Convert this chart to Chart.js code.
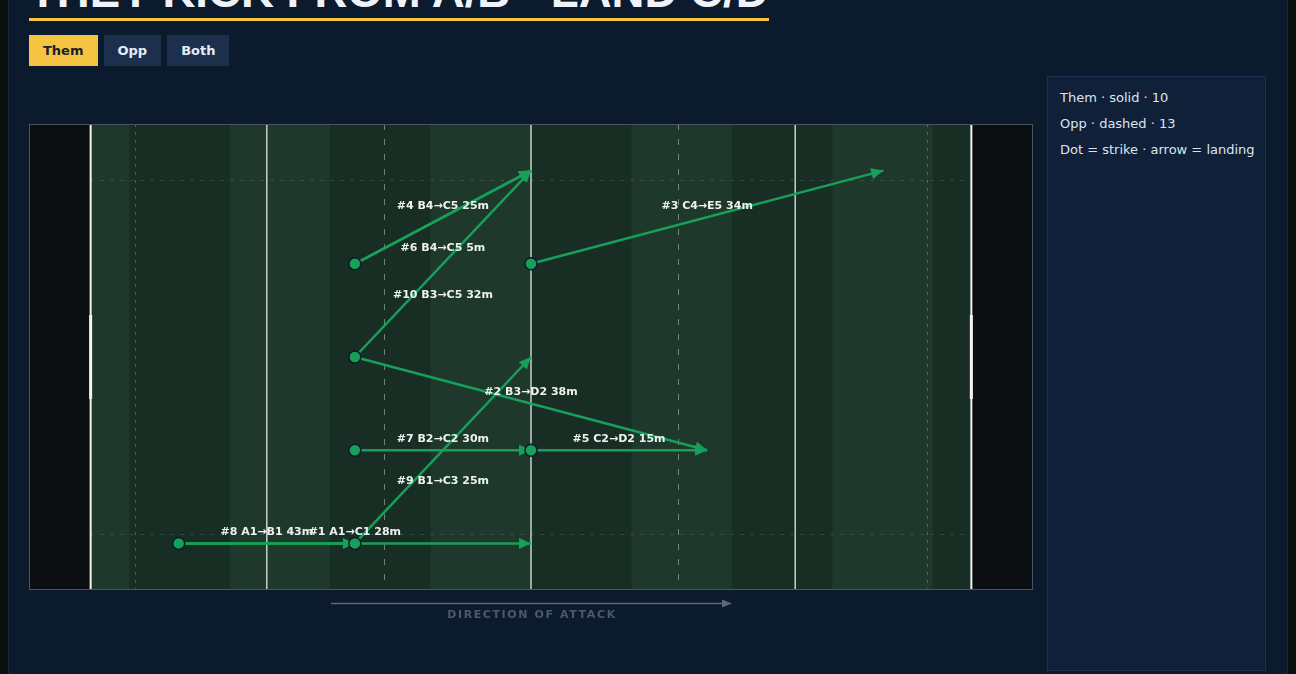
<!DOCTYPE html>
<html lang="en">
<head>
  <meta charset="UTF-8">
  <title>They kick from A/B - land C/D</title>
  <script src="https://cdn.jsdelivr.net/npm/chart.js"></script>
  <style>
    body { margin: 0; width: 1296px; height: 674px; overflow: hidden; background: #0a0f0e; font-family: "DejaVu Sans", sans-serif; }
    .page { position: absolute; left: 8px; top: 0; width: 1278px; height: 674px; background: #0c1a2e; border-left: 1px solid #1a2735; border-right: 1px solid #1a2735; }
    h1 { position: absolute; left: 29px; top: -34px; margin: 0; font: bold 45.6px/52px "Liberation Sans", Arial, sans-serif; color: #eef3fa; border-bottom: 3px solid #f5c542; white-space: nowrap; }
    .tabs { position: absolute; left: 29px; top: 35px; display: flex; gap: 6px; }
    .tabs button { height: 31px; padding: 0 14px; border: 0; font: bold 13px "DejaVu Sans", sans-serif; background: #1c2f4d; color: #e6ecf4; }
    .tabs button.on { background: #f5c542; color: #17202e; }
    .wrap { position: absolute; left: 29px; top: 124px; width: 1004px; height: 510px; }
    .panel { position: absolute; left: 1047px; top: 76px; width: 205px; height: 585px; background: #112039; border: 1px solid #1d3050; padding: 8px 0 0 12px; }
    .panel p { margin: 0; font-size: 13px; line-height: 26px; color: #dce4ee; white-space: nowrap; }
  </style>
</head>
<body>
  <div class="page"></div>
  <h1>THEY KICK FROM A/B - LAND C/D</h1>
  <div class="tabs">
    <button class="on">Them</button>
    <button>Opp</button>
    <button>Both</button>
  </div>
  <div class="wrap"><canvas id="chart"></canvas></div>
  <div class="panel" id="panel"></div>

  <script>
    // kicks by "them"
    const kickNo = [1, 2, 3, 4, 5, 6, 7, 8, 9, 10];
    const kickFrom = ['A1', 'B3', 'C4', 'B4', 'C2', 'B4', 'B2', 'A1', 'B1', 'B3'];
    const kickTo = ['C1', 'D2', 'E5', 'C5', 'D2', 'C5', 'C2', 'B1', 'C3', 'C5'];
    const kickMetres = [28, 38, 34, 25, 15, 5, 30, 43, 25, 32];
    const themCount = 10;
    const oppCount = 13;

    // grid zones: letters along the pitch, numbers across it
    const zones = ['A', 'B', 'C', 'D', 'E'];
    const rows = [1, 2, 3, 4, 5];

    // pitch markings (metres)
    const tryLines = [0, 100];
    const solidLines = [20, 50, 80];
    const dashLines = [33.3, 66.7];
    const fiveLines = [5, 95];
    const sideDots = [0.6, 4.4];

    const green = '#16a05a';

    function zonePoint(code) {
      return { x: 10 + 20 * zones.indexOf(code[0]), y: Number(code.slice(1)) - 0.5 };
    }

    const strikes = [];
    kickFrom.forEach(c => {
      const p = zonePoint(c);
      if (!strikes.some(s => s.x === p.x && s.y === p.y)) strikes.push(p);
    });

    document.getElementById('panel').innerHTML =
      `<p>Them · solid · ${themCount}</p><p>Opp · dashed · ${oppCount}</p><p>Dot = strike · arrow = landing</p>`;

    const pitchPlugin = {
      id: 'pitch',
      beforeDatasetsDraw(chart) {
        const { ctx, chartArea: a, scales: { x, y } } = chart;
        const h = a.bottom - a.top;
        ctx.save();
        const bw = (a.right - a.left) / 10;
        for (let i = 0; i < 10; i++) {
          ctx.fillStyle = i % 2 ? '#182e24' : '#1f382c';
          ctx.fillRect(a.left + i * bw, a.top, bw + 0.5, h);
        }
        const t0 = x.getPixelForValue(0), t1 = x.getPixelForValue(100);
        ctx.fillStyle = '#0b0f11';
        ctx.fillRect(a.left, a.top, t0 - a.left, h);
        ctx.fillRect(t1, a.top, a.right - t1, h);

        ctx.lineWidth = 1;
        ctx.setLineDash([3, 7]);
        ctx.strokeStyle = 'rgba(140,165,150,0.28)';
        sideDots.forEach(v => {
          const py = Math.round(y.getPixelForValue(v)) + 0.5;
          ctx.beginPath(); ctx.moveTo(t0, py); ctx.lineTo(t1, py); ctx.stroke();
        });

        ctx.setLineDash([3, 5]);
        ctx.strokeStyle = 'rgba(190,205,198,0.32)';
        fiveLines.forEach(v => {
          const px = Math.round(x.getPixelForValue(v)) + 0.5;
          ctx.beginPath(); ctx.moveTo(px, a.top); ctx.lineTo(px, a.bottom); ctx.stroke();
        });

        ctx.setLineDash([6, 9]);
        ctx.strokeStyle = 'rgba(200,212,205,0.5)';
        dashLines.forEach(v => {
          const px = Math.round(x.getPixelForValue(v)) + 0.5;
          ctx.beginPath(); ctx.moveTo(px, a.top); ctx.lineTo(px, a.bottom); ctx.stroke();
        });

        ctx.setLineDash([]);
        ctx.lineWidth = 1.5;
        ctx.strokeStyle = '#c9d0cc';
        solidLines.forEach(v => {
          const px = x.getPixelForValue(v);
          ctx.beginPath(); ctx.moveTo(px, a.top); ctx.lineTo(px, a.bottom); ctx.stroke();
        });

        ctx.strokeStyle = '#f2f4f3';
        tryLines.forEach(v => {
          const px = x.getPixelForValue(v);
          ctx.lineWidth = 2;
          ctx.beginPath(); ctx.moveTo(px, a.top); ctx.lineTo(px, a.bottom); ctx.stroke();
          ctx.lineWidth = 3;
          ctx.beginPath(); ctx.moveTo(px, y.getPixelForValue(2.95)); ctx.lineTo(px, y.getPixelForValue(2.05)); ctx.stroke();
        });

        ctx.lineWidth = 1;
        ctx.strokeStyle = '#4a555f';
        ctx.strokeRect(a.left + 0.5, a.top + 0.5, a.right - a.left - 1, h - 1);
        ctx.restore();
      },
      beforeDatasetDraw(chart, args) {
        if (args.index !== 0) return;
        const { ctx, scales: { x, y } } = chart;
        ctx.save();
        ctx.fillStyle = green;
        kickNo.forEach((n, i) => {
          const p = zonePoint(kickFrom[i]), q = zonePoint(kickTo[i]);
          const x1 = x.getPixelForValue(p.x), y1 = y.getPixelForValue(p.y);
          const x2 = x.getPixelForValue(q.x), y2 = y.getPixelForValue(q.y);
          const ang = Math.atan2(y2 - y1, x2 - x1);
          ctx.save();
          ctx.translate(x2, y2);
          ctx.rotate(ang);
          ctx.beginPath();
          ctx.moveTo(0, 0); ctx.lineTo(-12, -5.5); ctx.lineTo(-12, 5.5);
          ctx.closePath(); ctx.fill();
          ctx.restore();
        });
        ctx.restore();
      },
      afterDatasetsDraw(chart) {
        const { ctx, chartArea: a, scales: { x, y } } = chart;
        ctx.save();
        ctx.font = 'bold 11px "DejaVu Sans"';
        ctx.fillStyle = '#eef2ef';
        ctx.textAlign = 'center';
        ctx.textBaseline = 'middle';
        const placed = [];
        kickNo.forEach((n, i) => {
          const p = zonePoint(kickFrom[i]), q = zonePoint(kickTo[i]);
          const t = `#${n} ${kickFrom[i]}→${kickTo[i]} ${kickMetres[i]}m`;
          const w = ctx.measureText(t).width;
          const lx = (x.getPixelForValue(p.x) + x.getPixelForValue(q.x)) / 2;
          let ly = (y.getPixelForValue(p.y) + y.getPixelForValue(q.y)) / 2 - 11;
          while (placed.some(o => Math.abs(o.x - lx) < (o.w + w) / 2 - 10 && Math.abs(o.y - ly) < 14)) ly += 42;
          placed.push({ x: lx, y: ly, w });
          ctx.fillText(t, lx, ly);
        });

        // direction of attack
        const cx = x.getPixelForValue(50), dy = a.bottom + 13.5;
        ctx.strokeStyle = '#5b6774';
        ctx.fillStyle = '#5b6774';
        ctx.lineWidth = 1.5;
        ctx.beginPath(); ctx.moveTo(cx - 200, dy); ctx.lineTo(cx + 193, dy); ctx.stroke();
        ctx.beginPath(); ctx.moveTo(cx + 201, dy); ctx.lineTo(cx + 191, dy - 4); ctx.lineTo(cx + 191, dy + 4); ctx.closePath(); ctx.fill();
        ctx.font = 'bold 11px "DejaVu Sans"';
        ctx.letterSpacing = '1.6px';
        ctx.fillStyle = '#4b5a68';
        ctx.fillText('DIRECTION OF ATTACK', cx + 1, a.bottom + 25);
        ctx.restore();
      }
    };

    const datasets = [{
      data: strikes,
      order: 0,
      showLine: false,
      pointRadius: 6,
      pointBackgroundColor: green,
      pointBorderColor: '#0c1a2e',
      pointBorderWidth: 1.5
    }];
    kickNo.forEach((n, i) => {
      datasets.push({
        data: [zonePoint(kickFrom[i]), zonePoint(kickTo[i])],
        order: 1,
        showLine: true,
        borderColor: green,
        borderWidth: 2.5,
        pointRadius: 0,
        fill: false
      });
    });

    new Chart(document.getElementById('chart'), {
      type: 'scatter',
      data: { datasets },
      plugins: [pitchPlugin],
      options: {
        responsive: true,
        maintainAspectRatio: false,
        animation: false,
        events: [],
        layout: { autoPadding: false, padding: { left: 0, right: 0, top: 0, bottom: 44 } },
        plugins: { legend: { display: false }, tooltip: { enabled: false } },
        scales: {
          x: { type: 'linear', min: -7, max: 107, display: false },
          y: { type: 'linear', min: 0, max: 5, display: false }
        }
      }
    });
  </script>
</body>
</html>
